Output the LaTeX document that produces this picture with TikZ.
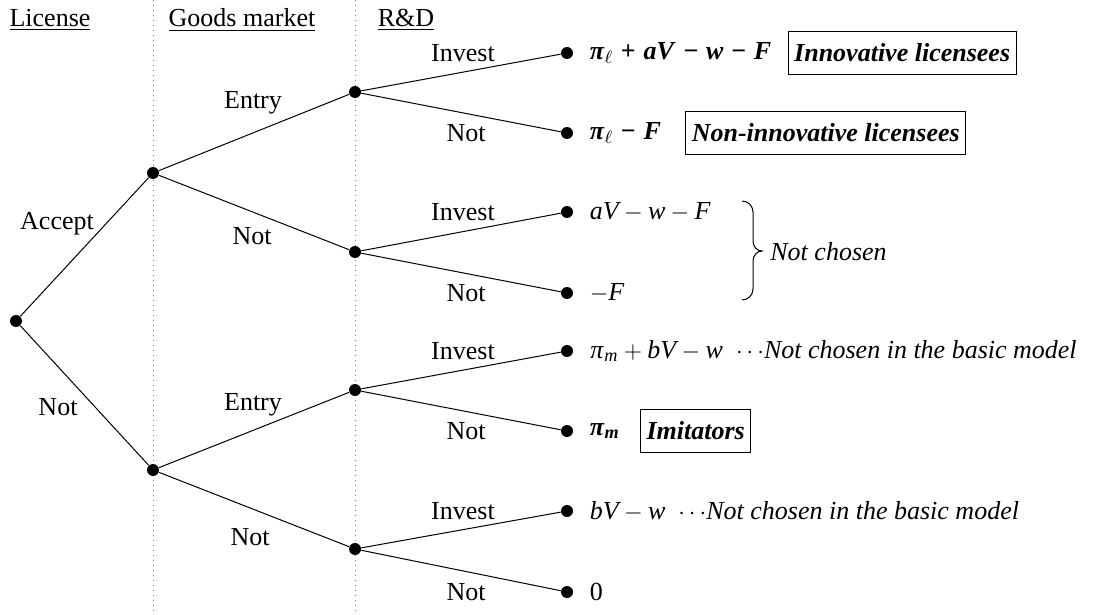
\documentclass[tikz,border=0pt]{standalone}
\usepackage{mathspec}
\setmainfont{Liberation Serif}
\setmathsfont(Digits,Latin,Greek){Liberation Serif}
\usetikzlibrary{positioning}
\newcommand{\bit}[1]{\textbf{\textit{#1}}}
\newcommand{\bop}[1]{\hspace{0.3em}\textbf{#1}\hspace{0.3em}}

\begin{document}
\begin{tikzpicture}[
  x=0.5pt, y=-0.5pt,
  font=\fontsize{13}{15}\selectfont,
  dot/.style={circle, fill=black, inner sep=0pt, minimum size=6pt},
  lbl/.style={inner sep=1pt},
  head/.style={inner sep=1pt},
  pay/.style={inner sep=0pt},
  tag/.style={draw, line width=0.5pt, inner sep=3pt, minimum height=21.5pt,
              font=\fontsize{13}{15}\selectfont\bfseries\itshape},
  branch/.style={line width=0.5pt},
  stage/.style={gray, dotted, line width=0.5pt}
]
  \useasboundingbox (0,0) rectangle (1099,615);

  % stages
  \draw[stage] (153,0) -- (153,615);
  \draw[stage] (355,0) -- (355,615);
  \node[head] (hlic)  at (50,20)  {\underline{License}};
  \node[head] (hgood) at (242,20) {\underline{Goods market}};
  \node[head] (hrd)   at (406,20) {\underline{R\&D}};

  % decision nodes
  \node[dot] (root) at (16,321)  {};
  \node[dot] (acc)  at (153,173) {};
  \node[dot] (rej)  at (153,470) {};
  \node[dot] (accE) at (355,92)  {};
  \node[dot] (accN) at (355,252) {};
  \node[dot] (rejE) at (355,390) {};
  \node[dot] (rejN) at (355,549) {};
  \foreach \n/\y in {1/53,2/133,3/212,4/293,5/351,6/431,7/511,8/592}
    \node[dot] (t\n) at (567,\y) {};

  % branches
  \draw[branch] (root) -- (acc);
  \draw[branch] (root) -- (rej);
  \draw[branch] (acc) -- (accE);
  \draw[branch] (acc) -- (accN);
  \draw[branch] (rej) -- (rejE);
  \draw[branch] (rej) -- (rejN);
  \foreach \s/\a/\b in {accE/1/2, accN/3/4, rejE/5/6, rejN/7/8} {
    \draw[branch] (\s) -- (t\a);
    \draw[branch] (\s) -- (t\b);
  }

  % labels
  \node[lbl] (lacc)  at (57,224)  {Accept};
  \node[lbl] (lrej)  at (58,407)  {Not};
  \node[lbl] (lae)   at (253,103) {Entry};
  \node[lbl] (lan)   at (252,236) {Not};
  \node[lbl] (lre)   at (253,405) {Entry};
  \node[lbl] (lrn)   at (250,537) {Not};
  \foreach \n/\y in {1/53,3/212,5/351,7/511}
    \node[lbl] (li\n) at (463,\y) {Invest};
  \foreach \n/\y in {2/133,4/293,6/431,8/592}
    \node[lbl] (ln\n) at (466,\y) {Not};

  % payoffs
  \node[pay, right=8pt of t1] (p1)
    {\bit{π}\textsubscript{$\ell$}\bop{+}\bit{aV}\bop{−}\bit{w}\bop{−}\bit{F}};
  \node[pay, right=8pt of t2] (p2) {\bit{π}\textsubscript{$\ell$}\bop{−}\bit{F}};
  \node[pay, right=8pt of t3] (p3) {$aV - w - F$};
  \node[pay, right=8pt of t4] (p4) {$-F$};
  \node[pay, right=8pt of t5] (p5) {$\pi_m + bV - w$\ \ $\cdots$\textit{Not chosen in the basic model}};
  \node[pay, right=8pt of t6] (p6) {\bit{π}\textsubscript{\bit{m}}};
  \node[pay, right=8pt of t7] (p7) {$bV - w$\ \ $\cdots$\textit{Not chosen in the basic model}};
  \node[pay, right=8pt of t8] (p8) {0};

  \node[tag, right=8pt of p1] (b1) {Innovative licensees};
  \node[tag, right=12pt of p2] (b2) {Non-innovative licensees};
  \node[tag, right=10pt of p6] (b6) {Imitators};

  % not chosen
  \coordinate (bt) at (742,201);
  \coordinate (bb) at (742,300);
  \draw[line width=0.5pt] (bt) to[out=0,in=90] (753,212) -- (753,241)
    to[out=-90,in=180] (762,251) to[out=180,in=90] (753,261) -- (753,289)
    to[out=-90,in=0] (bb);
  \node[anchor=west, inner sep=0pt] (nc) at (770,252) {\textit{Not chosen}};
\end{tikzpicture}
\end{document}
